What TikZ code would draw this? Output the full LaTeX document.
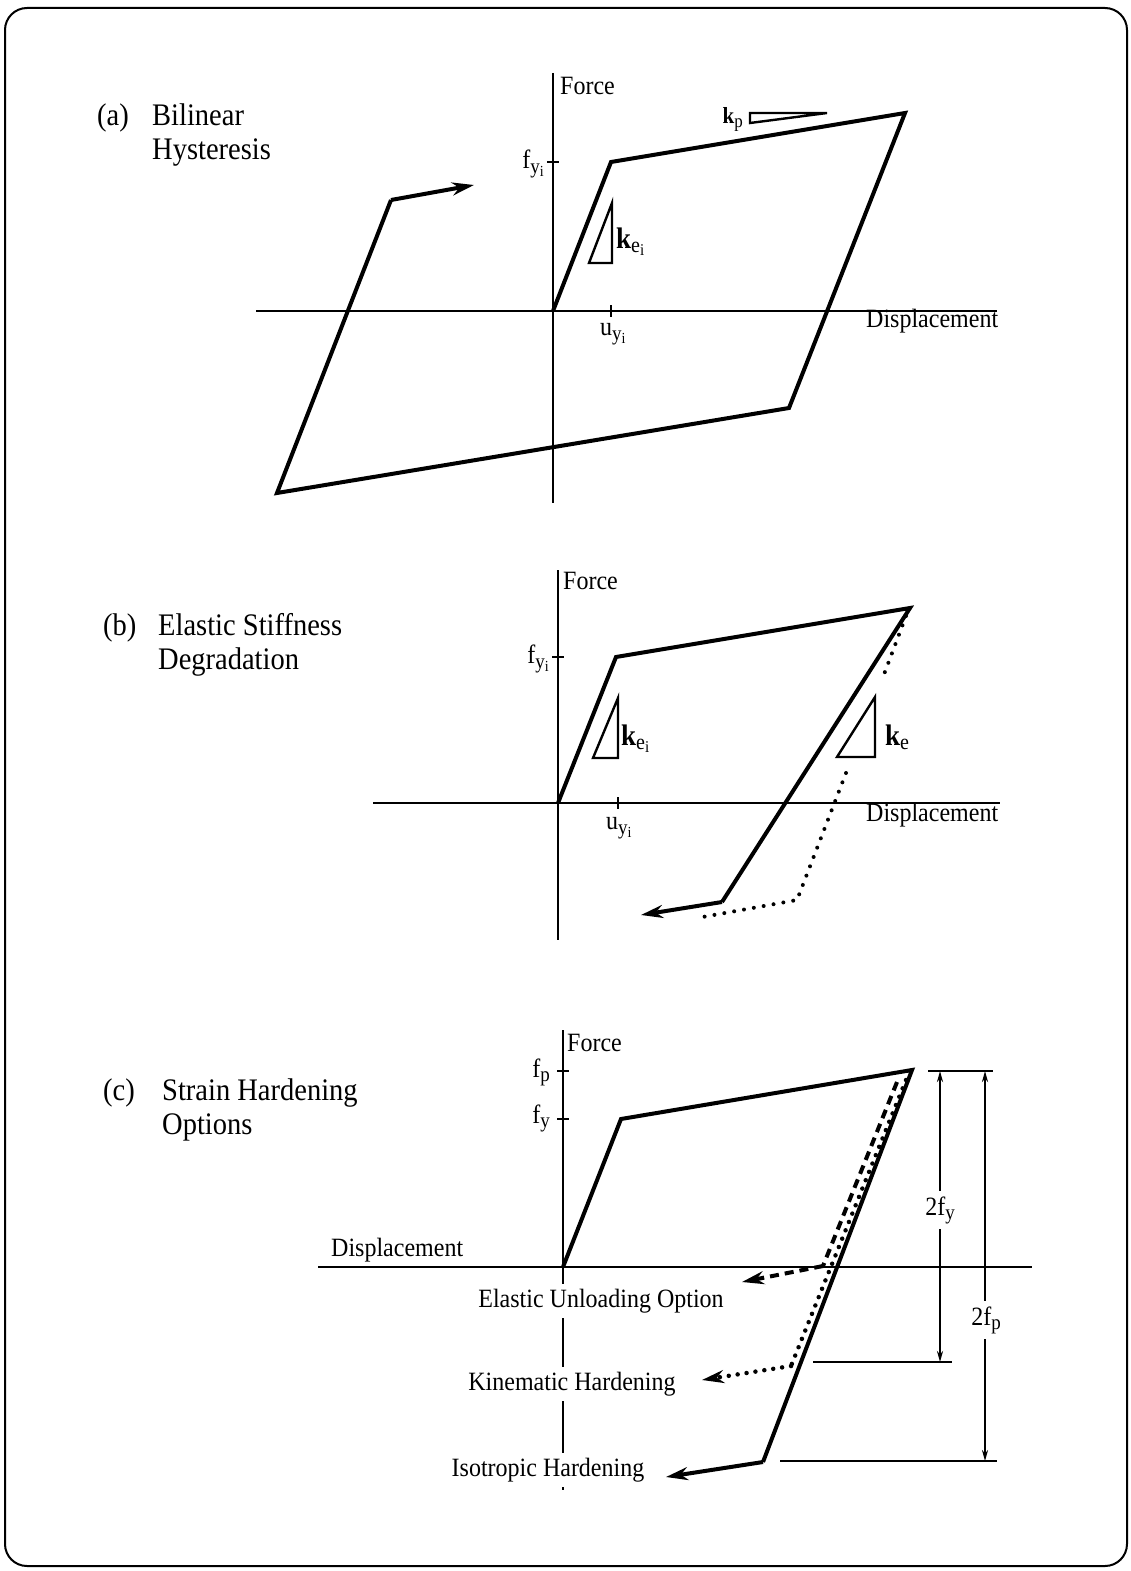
\documentclass[tikz,border=0pt]{standalone}
\usepackage{fontspec}
\usepackage{graphicx}
\setmainfont{Liberation Serif}
\usetikzlibrary{arrows.meta}
% #1 lowering, #2 font size, #3 text
\newcommand{\lowsub}[3]{\raisebox{-#1}{\fontsize{#2}{#2}\selectfont #3}}
\newcommand{\vs}[1]{\scalebox{1}[1.1]{#1}}
\tikzset{
  loopline/.style={line width=4pt, line join=miter, line cap=butt},
  axisline/.style={line width=2pt},
  triline/.style={line width=2.4pt, line join=miter},
  tickline/.style={line width=2pt},
  lbl/.style={font=\fontsize{24}{28}\selectfont, inner sep=0pt},
  ttl/.style={font=\fontsize{28.5}{34}\selectfont, inner sep=0pt, anchor=base west},
  bgl/.style={lbl, fill=white, inner xsep=3pt, inner ysep=5pt},
  bigtip/.style={-{Stealth[length=22pt,width=13pt]}},
  dimtip/.style={{Stealth[length=11pt,width=6pt]}-{Stealth[length=11pt,width=6pt]}},
  dotb/.style={line width=4pt, line cap=round, dash pattern=on 0pt off 10pt},
  dotc/.style={line width=4.5pt, line cap=round, dash pattern=on 0pt off 9pt},
  dashedline/.style={line width=4pt, dash pattern=on 9pt off 6pt},
}
\begin{document}
\begin{tikzpicture}[x=1pt,y=-1pt]
\useasboundingbox (0,0) rectangle (1131,1571);
\draw[line width=2pt, rounded corners=22pt] (5,8) rectangle (1127,1566);

%% ================= (a) =================
\node[ttl] (ta) at (97,125) {\vs{(a)}};
\node[ttl] (ta1) at (152,125) {\vs{Bilinear}};
\node[ttl] (ta2) at (152,159) {\vs{Hysteresis}};

\coordinate (aYt) at (553,73); \coordinate (aYb) at (553,503);
\coordinate (aXl) at (256,311); \coordinate (aXr) at (997,311);
\draw[axisline] (aYt) -- (aYb);
\draw[axisline] (aXl) -- (aXr);
\draw[tickline] (547,162) -- (559,162);
\draw[tickline] (611,305) -- (611,317);
\node[lbl, anchor=base west] (aF) at (560,94) {\vs{Force}};
\node[lbl, anchor=base west] (aD) at (866,327) {\vs{Displacement}};
\node[lbl, anchor=base east] (afy) at (544,168) {\vs{f\lowsub{5pt}{19}{y\lowsub{3pt}{14}{i}}}};
\node[lbl, anchor=base west] (auy) at (600,335) {\vs{u\lowsub{5pt}{19}{y\lowsub{3pt}{14}{i}}}};

\coordinate (a0) at (553,311);
\coordinate (a1) at (611,162);
\coordinate (a2) at (905,113);
\coordinate (a3) at (789,408);
\coordinate (a4) at (277,493);
\coordinate (a5) at (391,200);
\coordinate (a6) at (474,185);
\draw[loopline] (a0) -- (a1) -- (a2) -- (a3) -- (a4) -- (a5);
\draw[loopline, bigtip] (a5) -- (a6);

% k_p triangle
\coordinate (kp1) at (750,123); \coordinate (kp2) at (827,113); \coordinate (kp3) at (750,113);
\draw[triline] (kp1) -- (kp2) -- (kp3) -- cycle;
\node[lbl, anchor=base east] (akp) at (743,123) {\vs{\fontsize{21}{24}\selectfont\textbf{k}\lowsub{4pt}{17}{p}}};
% k_ei triangle
\coordinate (ke1) at (612,203); \coordinate (ke2) at (612,263); \coordinate (ke3) at (589,263);
\draw[triline] (ke1) -- (ke2) -- (ke3) -- cycle;
\node[lbl, anchor=base west] (akei) at (616,248) {\vs{\fontsize{27}{30}\selectfont\textbf{k}\lowsub{4pt}{20}{e\lowsub{3pt}{15}{i}}}};

%% ================= (b) =================
\node[ttl] (tb) at (103,635) {\vs{(b)}};
\node[ttl] (tb1) at (158,635) {\vs{Elastic Stiffness}};
\node[ttl] (tb2) at (158,669) {\vs{Degradation}};

\coordinate (bYt) at (558,570); \coordinate (bYb) at (558,940);
\coordinate (bXl) at (373,803); \coordinate (bXr) at (1000,803);
\draw[axisline] (bYt) -- (bYb);
\draw[axisline] (bXl) -- (bXr);
\draw[tickline] (552,657) -- (564,657);
\draw[tickline] (618,797) -- (618,809);
\node[lbl, anchor=base west] (bF) at (563,589) {\vs{Force}};
\node[lbl, anchor=base west] (bD) at (866,821) {\vs{Displacement}};
\node[lbl, anchor=base east] (bfy) at (549,663) {\vs{f\lowsub{5pt}{19}{y\lowsub{3pt}{14}{i}}}};
\node[lbl, anchor=base west] (buy) at (606,829) {\vs{u\lowsub{5pt}{19}{y\lowsub{3pt}{14}{i}}}};

\coordinate (b0) at (558,803);
\coordinate (b1) at (616,657);
\coordinate (b2) at (910,608);
\coordinate (b3) at (722,902);
\coordinate (b4) at (641,915);
\draw[loopline] (b0) -- (b1) -- (b2) -- (b3);
\draw[loopline, bigtip] (b3) -- (b4);
\coordinate (bd0) at (906,616);
\coordinate (bda) at (883,677);
\coordinate (bdb) at (846,773);
\coordinate (bd1) at (797,900);
\coordinate (bd2) at (697,918);
\draw[dotb] (bd0) -- (bda);
\draw[dotb] (bdb) -- (bd1) -- (bd2);

\coordinate (bk1) at (618,698); \coordinate (bk2) at (618,758); \coordinate (bk3) at (593,758);
\draw[triline] (bk1) -- (bk2) -- (bk3) -- cycle;
\node[lbl, anchor=base west] (bkei) at (621,745) {\vs{\fontsize{27}{30}\selectfont\textbf{k}\lowsub{4pt}{20}{e\lowsub{3pt}{15}{i}}}};
\coordinate (bm1) at (875,697); \coordinate (bm2) at (875,757); \coordinate (bm3) at (837,757);
\draw[triline] (bm1) -- (bm2) -- (bm3) -- cycle;
\node[lbl, anchor=base west] (bke) at (885,745) {\vs{\fontsize{27}{30}\selectfont\textbf{k}\lowsub{4pt}{20}{e}}};

%% ================= (c) =================
\node[ttl] (tc) at (103,1100) {\vs{(c)}};
\node[ttl] (tc1) at (162,1100) {\vs{Strain Hardening}};
\node[ttl] (tc2) at (162,1134) {\vs{Options}};

\coordinate (cYt) at (563,1030); \coordinate (cYb) at (563,1490);
\coordinate (cXl) at (318,1267); \coordinate (cXr) at (1032,1267);
\draw[axisline] (cXl) -- (cXr);
\draw[axisline] (cYt) -- (cYb);
\draw[tickline] (557,1071) -- (569,1071);
\draw[tickline] (557,1119) -- (569,1119);
\node[lbl, anchor=base west] (cF) at (567,1051) {\vs{Force}};
\node[lbl, anchor=base east] (cfp) at (550,1077) {\vs{f\lowsub{4pt}{19}{p}}};
\node[lbl, anchor=base east] (cfy) at (550,1123) {\vs{f\lowsub{4pt}{19}{y}}};
\node[lbl, anchor=base west] (cD) at (331,1256) {\vs{Displacement}};

\coordinate (c0) at (563,1267);
\coordinate (c1) at (621,1119);
\coordinate (c2) at (912,1070);
\coordinate (c3) at (763,1462);
\coordinate (c4) at (666,1477);
\draw[loopline] (c0) -- (c1) -- (c2) -- (c3);
\draw[loopline, bigtip] (c3) -- (c4);

\coordinate (ce0) at (897,1082);
\coordinate (ce1) at (823,1266);
\coordinate (ce2) at (742,1282);
\draw[dashedline] (ce0) -- (ce1);
\draw[dashedline, bigtip] (ce1) -- (ce2);

\coordinate (ck0) at (906,1080);
\coordinate (ck1) at (791,1366);
\coordinate (ck2) at (702,1380);
\draw[dotc] (ck0) -- (ck1);
\draw[dotc, bigtip] (ck1) -- (ck2);

\node[bgl, anchor=base] (cEl) at (601,1307) {\vs{Elastic Unloading Option}};
\node[bgl, anchor=base] (cKi) at (572,1390) {\vs{Kinematic Hardening}};
\node[bgl, anchor=base] (cIs) at (548,1476) {\vs{Isotropic Hardening}};

% dimension lines
\coordinate (dT1) at (928,1071); \coordinate (dT2) at (993,1071);
\coordinate (dM1) at (813,1362); \coordinate (dM2) at (952,1362);
\coordinate (dB1) at (780,1461); \coordinate (dB2) at (997,1461);
\draw[axisline] (dT1) -- (dT2);
\draw[axisline] (dM1) -- (dM2);
\draw[axisline] (dB1) -- (dB2);
\coordinate (dy1) at (940,1071); \coordinate (dy2) at (940,1362);
\coordinate (dp1) at (985,1071); \coordinate (dp2) at (985,1461);
\draw[axisline, dimtip] (dy1) -- (dy2);
\draw[axisline, dimtip] (dp1) -- (dp2);
\node[bgl, anchor=base] (c2fy) at (940,1215) {\vs{2f\lowsub{4pt}{19}{y}}};
\node[bgl, anchor=base] (c2fp) at (986,1325) {\vs{2f\lowsub{4pt}{19}{p}}};
\end{tikzpicture}
\end{document}
